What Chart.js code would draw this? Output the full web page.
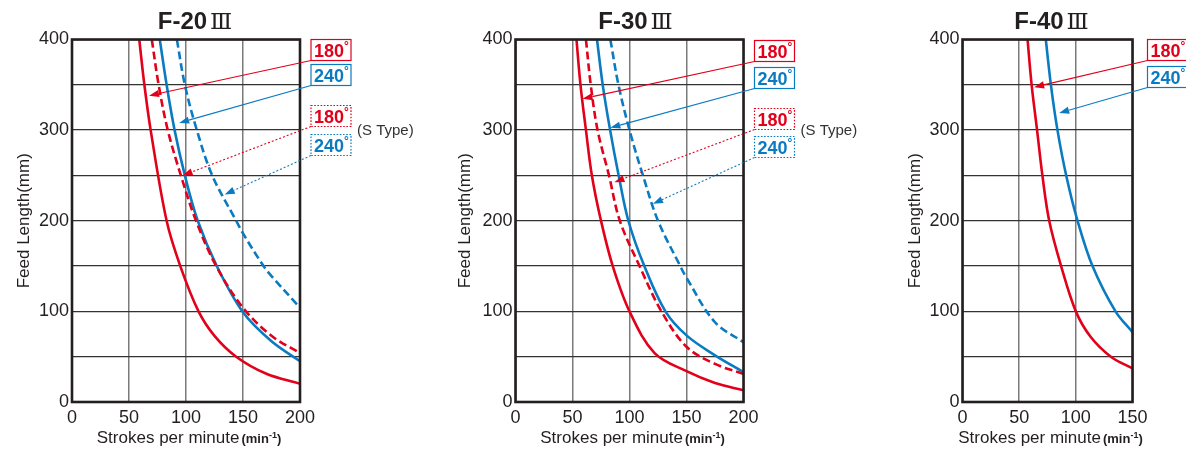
<!DOCTYPE html>
<html>
<head>
<meta charset="utf-8">
<script src="https://cdn.jsdelivr.net/npm/chart.js@4.4.1/dist/chart.umd.min.js"></script>
<style>
  body { margin: 0; background: #fff; width: 1186px; height: 450px; overflow: hidden; position: relative; }
  canvas { position: absolute; top: 0; }
</style>
</head>
<body>
<canvas id="f20" width="440" height="450" style="left:0"></canvas>
<canvas id="f30" width="440" height="450" style="left:440px"></canvas>
<canvas id="f40" width="306" height="450" style="left:880px"></canvas>
<script>
// ---- values ----
const yTicks = [0, 100, 200, 300, 400];

// F-20
const f20Speed180  = [59, 63.5, 69, 83, 95, 111, 125, 144, 170, 200];
const f20Feed180   = [400, 350, 300, 200, 150, 100, 73, 50, 31.5, 20];
const f20Speed240  = [77, 83, 90, 99, 110.3, 127, 150, 175, 200];
const f20Feed240   = [400, 350, 300, 250, 200, 150, 99, 67, 45];
const f20Speed180S = [70, 76, 84, 95.5, 108.8, 126.5, 150, 175, 200];
const f20Feed180S  = [400, 350, 300, 250, 200, 150, 104, 73, 54];
const f20Speed240S = [92, 99, 109.5, 123, 144, 150, 168, 175, 200];
const f20Feed240S  = [400, 350, 300, 250, 200, 186, 150, 139, 104];

// F-30
const f30Speed180  = [53.5, 57, 61.8, 67, 75, 85.3, 100, 122, 150, 175, 200];
const f30Feed180   = [400, 350, 300, 250, 200, 150, 100, 54, 34, 21, 13];
const f30Speed240  = [71.5, 76.5, 83, 90.5, 99, 113, 131.5, 150, 175, 200];
const f30Feed240   = [400, 350, 300, 250, 200, 150, 100, 73.5, 51.5, 33];
const f30Speed180S = [61.8, 66, 72, 82, 91.5, 108.8, 128, 150, 175, 200];
const f30Feed180S  = [400, 350, 300, 250, 200, 150, 100, 61, 42, 31];
const f30Speed240S = [83.2, 90.3, 100, 111.8, 125, 144.5, 150, 175, 200];
const f30Feed240S  = [400, 350, 300, 250, 200, 150, 137, 88, 66];

// F-40
const f40Speed180 = [57.4, 61, 65.8, 70.5, 76.5, 87, 100, 113, 130.9, 150];
const f40Feed180  = [400, 350, 300, 250, 200, 150, 100, 72, 50, 37];
const f40Speed240 = [73.5, 78, 83.8, 91.5, 101.5, 114.7, 135, 150];
const f40Feed240  = [400, 350, 300, 250, 200, 150, 100, 77];

const RED = '#e2001a';
const BLUE = '#0b7bc1';
const INK = '#231f20';
const FONT = '"Liberation Sans", Arial, sans-serif';

Chart.defaults.font.family = FONT;
Chart.defaults.color = INK;

function pts(xs, ys) {
  return xs.map((x, i) => ({ x: x, y: ys[i] }));
}

function line(xs, ys, color, dashed) {
  return {
    data: pts(xs, ys),
    borderColor: color,
    borderWidth: 2.6,
    borderDash: dashed ? [8, 4] : [],
    pointRadius: 0,
    fill: false,
    tension: 0.35
  };
}

// frame, titles, labels and arrows
const sheet = {
  id: 'sheet',
  afterDatasetsDraw(chart, args, o) {
    const ctx = chart.ctx, a = chart.chartArea;
    const xs = chart.scales.x, ys = chart.scales.y;
    ctx.save();
    ctx.strokeStyle = INK;
    ctx.lineWidth = 2.6;
    ctx.strokeRect(a.left, a.top, a.right - a.left, a.bottom - a.top);

    // title
    ctx.fillStyle = INK;
    ctx.textBaseline = 'alphabetic';
    ctx.textAlign = 'left';
    const tFont = 'bold 24px ' + FONT, rFont = '23px "DejaVu Serif", "Noto Sans CJK JP", serif';
    ctx.font = tFont;
    const w1 = ctx.measureText(o.title).width;
    ctx.font = rFont;
    const w2 = ctx.measureText('Ⅲ').width;
    const tx = (a.left + a.right) / 2 + o.titleShift - (w1 + 3 + w2) / 2;
    ctx.font = tFont;
    ctx.fillText(o.title, tx, 29);
    ctx.font = rFont;
    ctx.fillText('Ⅲ', tx + w1 + 3, 29);

    // y title
    ctx.save();
    ctx.font = '17px ' + FONT;
    ctx.translate(o.yTitleX, (a.top + a.bottom) / 2);
    ctx.rotate(-Math.PI / 2);
    ctx.textAlign = 'center';
    ctx.textBaseline = 'middle';
    ctx.fillText('Feed Length(mm)', 0, 0);
    ctx.restore();

    // x title
    const parts = [
      ['Strokes per minute', '17px ' + FONT, 0, 2],
      ['(min', 'bold 13px ' + FONT, 0, 0],
      ['-1', 'bold 9px ' + FONT, -5, 0],
      [')', 'bold 13px ' + FONT, 0, 0]
    ];
    let total = 0;
    parts.forEach(p => { ctx.font = p[1]; total += ctx.measureText(p[0]).width + p[3]; });
    let px = (a.left + a.right) / 2 + 3 - total / 2;
    ctx.textAlign = 'left';
    ctx.textBaseline = 'alphabetic';
    parts.forEach(p => {
      ctx.font = p[1];
      ctx.fillText(p[0], px, 443 + p[2]);
      px += ctx.measureText(p[0]).width + p[3];
    });

    // labels with arrows
    o.notes.forEach(n => {
      const bx = a.right + o.boxGap, by = a.top + n.top, bw = 40, bh = 21;
      ctx.setLineDash(n.dotted ? [1.6, 1.6] : []);
      ctx.lineWidth = 1.2;
      ctx.strokeStyle = n.color;
      ctx.fillStyle = '#fff';
      ctx.fillRect(bx, by, bw, bh);
      ctx.strokeRect(bx, by, bw, bh);
      ctx.fillStyle = n.color;
      ctx.font = 'bold 18px ' + FONT;
      ctx.fillText(n.text, bx + 3, by + 17);
      const tw = ctx.measureText(n.text).width;
      ctx.font = 'bold 12px ' + FONT;
      ctx.fillText('°', bx + 3 + tw, by + 10);

      const sx = bx, sy = by + bh;
      const ex = xs.getPixelForValue(n.at[0]), ey = ys.getPixelForValue(n.at[1]);
      const ang = Math.atan2(ey - sy, ex - sx);
      const L = 10, W = 3.6;
      const hx = ex - L * Math.cos(ang), hy = ey - L * Math.sin(ang);
      ctx.lineWidth = 1.1;
      ctx.setLineDash(n.dotted ? [2, 2] : []);
      ctx.beginPath();
      ctx.moveTo(sx, sy);
      ctx.lineTo(hx, hy);
      ctx.stroke();
      ctx.setLineDash([]);
      ctx.beginPath();
      ctx.moveTo(ex, ey);
      ctx.lineTo(hx + W * Math.sin(ang), hy - W * Math.cos(ang));
      ctx.lineTo(hx - W * Math.sin(ang), hy + W * Math.cos(ang));
      ctx.closePath();
      ctx.fill();
    });

    if (o.sType) {
      ctx.fillStyle = '#333';
      ctx.font = '15px ' + FONT;
      ctx.textBaseline = 'middle';
      ctx.fillText('(S Type)', a.right + o.boxGap + 46, a.top + 91);
    }
    ctx.restore();
  }
};

function makeChart(id, c) {
  const canvas = document.getElementById(id);
  return new Chart(canvas, {
    type: 'line',
    data: { datasets: c.series },
    options: {
      responsive: false,
      animation: false,
      layout: { padding: { top: 39.5, right: canvas.width - c.right, left: 0, bottom: 0 } },
      plugins: {
        legend: { display: false },
        tooltip: { enabled: false },
        sheet: c
      },
      scales: {
        x: {
          type: 'linear',
          min: 0,
          max: c.xMax,
          afterFit: s => { s.height = 48; },
          grid: { color: '#7b7b7b', lineWidth: 1.5, drawTicks: false },
          border: { display: false },
          ticks: { stepSize: 50, autoSkip: false, maxRotation: 0, padding: 5, color: INK, font: { size: 18 } }
        },
        y: {
          type: 'linear',
          min: 0,
          max: 400,
          afterFit: s => { s.width = c.left; },
          grid: { color: '#333', lineWidth: 1.3, drawTicks: false },
          border: { display: false },
          ticks: {
            stepSize: 50, autoSkip: false, padding: 3, color: INK, font: { size: 18 },
            callback: v => yTicks.includes(v) ? v : ''
          }
        }
      }
    },
    plugins: [sheet]
  });
}

makeChart('f20', {
  title: 'F-20', xMax: 200, left: 72, right: 300, yTitleX: 24, titleShift: 9, boxGap: 11, sType: true,
  series: [
    line(f20Speed180, f20Feed180, RED, false),
    line(f20Speed180S, f20Feed180S, RED, true),
    line(f20Speed240, f20Feed240, BLUE, false),
    line(f20Speed240S, f20Feed240S, BLUE, true)
  ],
  notes: [
    { text: '180', color: RED, dotted: false, top: 0, at: [67.6, 338] },
    { text: '240', color: BLUE, dotted: false, top: 25, at: [94, 308] },
    { text: '180', color: RED, dotted: true, top: 66, at: [97, 250] },
    { text: '240', color: BLUE, dotted: true, top: 95, at: [134, 229] }
  ]
});

makeChart('f30', {
  title: 'F-30', xMax: 200, left: 75.5, right: 303.5, yTitleX: 25, titleShift: 6, boxGap: 11, sType: true,
  series: [
    line(f30Speed180, f30Feed180, RED, false),
    line(f30Speed180S, f30Feed180S, RED, true),
    line(f30Speed240, f30Feed240, BLUE, false),
    line(f30Speed240S, f30Feed240S, BLUE, true)
  ],
  notes: [
    { text: '180', color: RED, dotted: false, top: 1, at: [58.8, 334.6] },
    { text: '240', color: BLUE, dotted: false, top: 28, at: [83.2, 302.6] },
    { text: '180', color: RED, dotted: true, top: 69, at: [86.8, 242.6] },
    { text: '240', color: BLUE, dotted: true, top: 97, at: [120.6, 218.7] }
  ]
});

makeChart('f40', {
  title: 'F-40', xMax: 150, left: 82.5, right: 252.5, yTitleX: 35, titleShift: 4, boxGap: 15, sType: false,
  series: [
    line(f40Speed180, f40Feed180, RED, false),
    line(f40Speed240, f40Feed240, BLUE, false)
  ],
  notes: [
    { text: '180', color: RED, dotted: false, top: 0, at: [63.2, 347.4] },
    { text: '240', color: BLUE, dotted: false, top: 27, at: [85.3, 318.8] }
  ]
});
</script>
</body>
</html>
